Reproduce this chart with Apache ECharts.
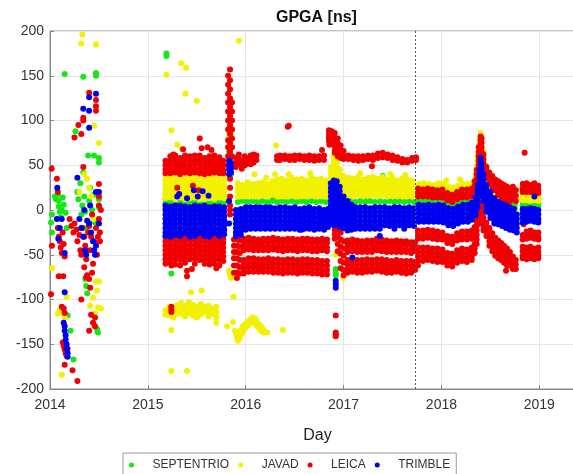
<!DOCTYPE html>
<html>
<head>
<meta charset="utf-8">
<script src="https://cdn.jsdelivr.net/npm/echarts@6/dist/echarts.min.js"></script>
<style>
  html, body { margin: 0; padding: 0; background: #fff; }
  #chart { width: 573px; height: 474px; }
</style>
</head>
<body>
<div id="chart"></div>
<script>
// receivers, in legend order
let receivers = ["SEPTENTRIO", "JAVAD", "LEICA", "TRIMBLE"];
let yearTicks = [2014, 2015, 2016, 2017, 2018, 2019];
let reprocessDate = 2017.73;

// single points: [year, ns]
let septentrioPts = [
  [2014.02,-5],[2014.01,-14],[2014.02,-25],[2014.05,15],[2014.06,12],[2014.08,17],[2014.09,10],[2014.09,4],
  [2014.10,-2],[2014.11,-8],[2014.12,0],[2014.13,14],[2014.14,6],[2014.15,152],[2014.16,-3],[2014.17,-20],
  [2014.18,-118],[2014.21,-135],[2014.24,-167],[2014.26,88],[2014.28,20],[2014.29,12],[2014.31,30],[2014.32,-5],
  [2014.33,5],[2014.34,149],[2014.34,42],[2014.35,15],[2014.36,-2],[2014.37,-20],[2014.36,-77],[2014.37,-85],
  [2014.38,-93],[2014.39,61],[2014.40,10],[2014.41,25],[2014.43,0],[2014.45,61],[2014.45,17],[2014.46,-14],
  [2014.47,153],[2014.47,150],[2014.48,-133],[2014.49,-137],[2014.50,58],[2014.50,53],[2014.50,12],[2014.50,3],
  [2015.19,175],[2015.19,172],[2015.24,-71],[2015.83,65],[2015.83,60],[2015.84,56],[2015.85,40],
  [2015.27,17],[2015.41,18],[2015.56,16],[2015.66,17],[2016.28,12],[2016.61,13],[2017.21,12],[2017.55,13],
  [2016.92,-66],[2016.92,-70],[2016.92,-73],[2017.40,38]
];
let javadPts = [
  [2014.02,-65],[2014.08,-116],[2014.10,-112],[2014.12,-184],[2014.13,-115],[2014.15,-120],[2014.17,-97],
  [2014.33,196],[2014.32,186],[2014.47,185],[2014.45,94],[2014.50,75],[2014.30,20],[2014.35,40],[2014.38,35],
  [2014.40,25],[2014.42,15],[2014.44,-10],[2014.47,-80],[2014.48,-90],[2014.41,-107],[2014.44,-98],
  [2014.49,-109],[2014.46,-115],[2014.52,-110],[2014.50,-80],
  [2015.19,151],[2015.34,164],[2015.39,159],[2015.385,130],[2015.50,122],[2015.93,189],[2015.24,89],
  [2015.30,73],[2015.35,68],[2015.44,-92],[2015.55,-90],[2015.875,-97],[2015.83,-68],[2015.84,-72],
  [2015.85,-76],[2015.24,-134],[2015.24,-180],[2015.40,-180],[2015.70,-126],[2015.81,-130],[2016.09,40],
  [2016.30,40],[2016.31,72],[2016.38,-134],[2016.997,-76],[2016.92,-50],
  [2016.21,36],[2016.44,40],[2016.66,41],[2017.17,41],[2017.48,40],[2017.63,39],[2018.05,33],[2018.19,34],
  [2015.87,-125],[2015.89,-135],[2015.91,-142],[2015.93,-139],[2015.95,-134],[2015.97,-130],[2015.99,-128],
  [2016.01,-126],[2016.03,-124],[2016.05,-122],[2016.07,-120],[2016.09,-121],[2016.11,-124],[2016.13,-127],
  [2016.15,-129],[2016.17,-132],[2016.19,-135],[2016.22,-137],
  [2015.90,-138],[2015.92,-146],[2015.94,-143],[2015.96,-138],[2015.98,-134],[2016.00,-131],[2016.02,-129],
  [2016.04,-127],[2016.06,-125],[2016.08,-125],[2016.10,-127],[2016.12,-130],[2016.14,-133],[2016.16,-135],
  [2016.18,-137]
];
let leicaPts = [
  [2014.017,46],[2014.07,35],[2014.08,20],[2014.02,-40],[2014.01,-94],[2014.09,-74],[2014.135,-74],
  [2014.08,-20],[2014.09,-30],[2014.10,-35],[2014.11,-42],[2014.12,-48],[2014.13,-25],[2014.14,-38],
  [2014.15,-52],[2014.12,-108],[2014.14,-110],[2014.15,-115],[2014.13,-148],[2014.14,-152],[2014.15,-156],
  [2014.16,-160],[2014.17,-163],[2014.18,-155],[2014.16,-150],[2014.15,-173],[2014.23,-179],[2014.28,-191],
  [2014.20,-10],[2014.22,-18],[2014.24,-25],[2014.25,81],[2014.25,-15],[2014.27,-22],[2014.28,-35],
  [2014.29,95],[2014.30,-28],[2014.31,-45],[2014.32,85],[2014.32,-50],[2014.33,-20],[2014.34,103],
  [2014.34,100],[2014.34,48],[2014.35,-64],[2014.35,-30],[2014.36,-40],[2014.37,-75],[2014.37,-55],
  [2014.38,-73],[2014.32,-100],[2014.39,-25],[2014.40,131],[2014.40,-77],[2014.40,-135],[2014.41,-87],
  [2014.41,-45],[2014.42,-117],[2014.42,-30],[2014.43,-70],[2014.44,-126],[2014.44,-60],[2014.45,-35],
  [2014.46,-120],[2014.46,-130],[2014.47,123],[2014.47,116],[2014.47,111],[2014.47,-20],[2014.48,-50],
  [2014.49,-30],[2014.50,29],[2014.50,15],[2014.50,5],[2014.50,-10],[2014.51,-25],[2014.51,-35],[2014.52,0],
  [2014.40,-18],[2014.43,-5],
  [2015.24,-62],[2015.24,-108],[2015.24,-111],[2015.24,-114],[2015.40,-68],[2015.40,-74],[2015.53,80],
  [2015.55,69],[2015.65,67],[2015.26,62],[2016.43,93],[2016.44,94],[2016.78,67],[2016.855,73],[2016.91,64],
  [2015.30,25],[2015.46,27],[2015.52,22],[2015.36,68],[2015.61,70],[2015.45,-66],[2015.70,-65],
  [2017.29,49],[2016.92,-118],[2016.92,-137],[2016.92,-139],[2016.92,-141],[2018.85,64],[2018.66,-68],
  [2018.84,-16]
];
let trimblePts = [
  [2014.075,25],[2014.07,-10],[2014.10,-20],[2014.085,-32],[2014.12,-10],[2014.15,-48],[2014.15,-92],
  [2014.14,-126],[2014.15,-130],[2014.15,-135],[2014.16,-140],[2014.16,-145],[2014.17,-150],[2014.17,-155],
  [2014.18,-160],[2014.18,-164],[2014.28,36],[2014.34,113],[2014.40,111],[2014.40,92],[2014.40,126],
  [2014.47,130],[2014.47,20],[2014.50,20],[2014.30,-10],[2014.32,-20],[2014.34,-30],[2014.35,0],
  [2014.36,-45],[2014.37,-50],[2014.40,-15],[2014.42,-25],[2014.44,-35],[2014.45,-45],[2014.46,-50],
  [2014.47,-40],[2014.50,-15],[2014.41,5],[2014.38,-12],
  [2015.30,15],[2015.56,21],[2015.32,18],[2015.47,22],[2015.51,15],[2015.40,13],[2015.62,16],
  [2016.57,-22],[2017.37,-29],[2017.09,-53],[2016.92,-79],[2016.92,-83],
  [2016.92,-87],[2018.95,15]
];

// dense daily bands: [year, ns, ns, ...]
let septentrioCols = [
  [2015.18,12,7,2],[2015.23,13,8,3],[2015.28,11,6],[2015.33,14,9,4],[2015.38,12,7],[2015.43,13,8,3],
  [2015.48,10,5],[2015.53,14,9,4],[2015.58,12,7],[2015.63,11,6,2],[2015.68,13,8],[2015.73,12,7,3],[2015.78,14,9],
  [2015.92,9],[2015.97,10],[2016.02,9],[2016.07,10],[2016.12,9],[2016.17,10],[2016.22,9],[2016.27,10],
  [2016.32,9],[2016.37,10],[2016.42,9],[2016.47,10],[2016.52,9],[2016.57,10],[2016.62,9],[2016.67,10],
  [2016.72,9],[2016.77,10],[2016.82,9],
  [2017.02,9],[2017.07,10],[2017.12,9],[2017.17,10],[2017.22,9],[2017.27,10],[2017.32,9],[2017.37,10],
  [2017.42,9],[2017.47,10],[2017.52,9],[2017.57,10],[2017.62,9],[2017.67,10],[2017.72,9],
  [2017.77,14,10],[2017.82,13,9],[2017.87,14,10],[2017.92,13,9],[2017.97,14,10],[2018.02,13,9],
  [2018.07,10,6],[2018.12,9,5],[2018.17,12,8],[2018.22,14,10],[2018.27,13,9],[2018.32,15,11],
  [2018.47,30,25,20],[2018.51,24,19,14],[2018.55,20,15,10],[2018.59,18,13,8],[2018.63,16,11,6],
  [2018.67,15,10,5],[2018.71,14,9,4],[2018.75,12,7,2],
  [2018.83,12,8,5],[2018.87,13,9,5],[2018.91,12,8,4],[2018.95,11,7,4],[2018.99,12,8,5]
];
let javadCols = [
  [2015.18,38,33,28,23,18,13],[2015.23,39,34,29,24,19,14],[2015.28,37,32,27,22,17,12],[2015.33,39,34,29,24,19,14],
  [2015.38,36,31,26,21,16,12],[2015.43,38,33,28,23,18,13],[2015.48,39,34,29,24,19,14],[2015.53,37,32,27,22,17,12],
  [2015.58,35,30,25,20,15,12],[2015.63,38,33,28,23,18,13],[2015.68,36,31,26,21,16,12],[2015.73,34,29,24,19,14],
  [2015.78,37,32,27,22,17,13],[2015.83,92,86,80,75],[2015.85,88,82],
  [2015.92,30,25,20,15],[2015.97,28,23,18,15],[2016.02,31,26,21,16],[2016.07,29,24,19,15],
  [2016.12,30,25,20,15],[2016.17,31,26,21,16],[2016.22,29,24,19,15],[2016.27,32,27,22,17],
  [2016.32,34,29,24,19,15],[2016.37,35,30,25,20,15],[2016.42,33,28,23,18,15],[2016.47,36,31,26,21,16],
  [2016.52,34,29,24,19,15],[2016.57,35,30,25,20,15],[2016.62,33,28,23,18,15],[2016.67,36,31,26,21,16],
  [2016.72,34,29,24,19,15],[2016.77,35,30,25,20,15],[2016.82,33,28,23,18,15],
  [2016.87,48,43,38,33,28,23,18],[2016.90,60,55,50,45,40,35,30],[2016.93,58,53,48,43,38,33],
  [2016.96,45,40,35,30,25,20],
  [2017.00,38,33,28,23,18],[2017.05,36,31,26,21,16],[2017.10,35,30,25,20,15],[2017.15,37,32,27,22,17],
  [2017.20,34,29,24,19,15],[2017.25,36,31,26,21,16],[2017.30,37,32,27,22,17],[2017.35,35,30,25,20,15],
  [2017.40,37,32,27,22,17],[2017.45,34,29,24,19,15],[2017.50,36,31,26,21,16],[2017.55,33,28,23,18,15],
  [2017.60,35,30,25,20,15],[2017.65,34,29,24,19,15],[2017.70,33,28,23,18,15],
  [2017.77,29,25],[2017.82,30,26],[2017.87,29,25],[2017.92,28,24],[2017.97,30,26],[2018.02,29,25],
  [2018.07,26,22],[2018.12,25,21],[2018.17,27,23],[2018.22,29,25],[2018.27,29,25],[2018.32,31,27],
  [2018.35,40,35,30],[2018.37,60,55,50,45,40],[2018.39,78,73,68,63,58],[2018.40,86,81,76],
  [2018.41,82,77,72,67],[2018.43,65,60,55,50],[2018.45,50,45,40,35],
  [2018.48,42,37,32,27],[2018.52,36,31,26,21],[2018.56,33,28,23,18],[2018.60,30,25,20,15],
  [2018.64,28,23,18],[2018.68,26,21,16],[2018.72,25,20,15],[2018.76,23,18,13],
  [2018.83,18,14,11],[2018.87,19,15,11],[2018.91,18,14,10],[2018.95,18,14,11],[2018.99,17,13,10],
  [2015.18,-112,-117],[2015.22,-108,-113,-118],[2015.26,-110,-115,-120],[2015.30,-106,-111,-116],
  [2015.34,-104,-110,-116],[2015.38,-107,-113,-119],[2015.42,-103,-109,-115],[2015.46,-106,-112,-118],
  [2015.50,-108,-114,-120],[2015.54,-105,-111,-117],[2015.58,-108,-114],[2015.62,-107,-113,-119],
  [2015.66,-110,-116],[2015.70,-108,-114,-120]
];
let leicaCols = [
  [2015.18,55,50,45,41],[2015.23,60,55,50,45,41],[2015.28,61,56,51,46,42],
  [2015.33,58,53,48,43,40],[2015.38,61,56,51,46,42],[2015.43,60,55,50,45,41],
  [2015.48,61,56,51,46,42],[2015.53,61,56,51,46,41],[2015.58,58,53,48,43,40],
  [2015.63,60,55,50,45,41],[2015.68,61,56,51,46,42],[2015.73,59,54,49,44,41],
  [2015.77,55,50,45,41],
  [2015.82,150,140,130,120,110,100,90,78,70,60,50],
  [2015.84,157,145,135,125,115,105,95,85,75,65,55,45,35,25,15,5,0,-5],
  [2015.86,120,110,100,90,80,70,60],
  [2015.90,58,53,48],[2015.93,62,57,52],[2015.96,55,50,46],[2015.99,60,55,50],[2016.02,57,52],
  [2016.05,61,56,51],[2016.08,62,57,53],[2016.11,61,56],
  [2016.32,60,56],[2016.35,61,56],[2016.40,61,57],[2016.45,60,56],[2016.50,61,56],[2016.55,61,57],
  [2016.60,60,56],[2016.65,61,56],[2016.70,60,55],[2016.75,60,56],[2016.80,61,56],
  [2016.85,89,85,81,77],[2016.88,88,84,80,76],[2016.91,86,81,76,71,66],[2016.94,80,75,70,65,60],
  [2016.97,72,67,62,58],[2017.00,66,61,57],
  [2017.05,61,57],[2017.10,60,56],[2017.15,60,55],[2017.20,60,56],[2017.25,61,57],[2017.30,61,56],
  [2017.35,63,58],[2017.40,64,59],[2017.45,62,58],[2017.50,61,56],[2017.55,59,55],[2017.60,57,53],
  [2017.65,56,53],[2017.70,58,55],[2017.74,59,56],
  [2015.18,-30,-35,-40,-45,-50,-55,-60],[2015.23,-29,-34,-39,-44,-49,-54,-59],[2015.28,-30,-35,-40,-45,-50,-55,-61],
  [2015.33,-31,-36,-41,-46,-51,-56,-62],[2015.38,-29,-34,-39,-44,-49,-54,-59],[2015.43,-30,-35,-40,-45,-50,-55],
  [2015.48,-29,-34,-39,-44,-49,-54,-60],[2015.53,-31,-36,-41,-46,-51,-56],[2015.58,-30,-35,-40,-45,-50,-55,-60],
  [2015.63,-31,-36,-41,-46,-51,-56,-61],[2015.68,-30,-35,-40,-45,-50,-55,-60],[2015.73,-31,-36,-41,-46,-51,-56,-62],
  [2015.77,-32,-37,-42,-47,-52,-57],
  [2015.88,-33,-40,-47,-54,-62,-70],[2015.91,-33,-40,-47,-54,-62,-70,-76],[2015.94,-34,-41,-48,-56,-64,-71],
  [2015.98,-32,-36,-41,-45],[2016.03,-31,-35,-40,-44],[2016.08,-32,-36,-41,-45],[2016.13,-33,-37,-42,-45],
  [2016.18,-32,-36,-41,-45],[2016.23,-32,-36,-41,-45],[2016.28,-31,-35,-40,-44],[2016.33,-32,-36,-41,-45],
  [2016.38,-33,-37,-42,-46],[2016.43,-32,-36,-41,-45],[2016.48,-32,-36,-41,-45],[2016.53,-33,-37,-42,-46],
  [2016.58,-32,-36,-41,-45],[2016.63,-32,-36,-41,-45],[2016.68,-33,-37,-42,-46],[2016.73,-33,-37,-42,-46],
  [2016.78,-32,-36,-41,-45],[2016.83,-33,-37,-42,-46],
  [2015.98,-56,-61,-66,-71],[2016.03,-54,-59,-64,-69],[2016.08,-54,-59,-64,-69],[2016.13,-55,-60,-65,-69],
  [2016.18,-55,-60,-65,-69],[2016.23,-54,-59,-64,-69],[2016.28,-55,-60,-65,-70],[2016.33,-55,-60,-65,-70],
  [2016.38,-56,-61,-66,-71],[2016.43,-55,-60,-65,-70],[2016.48,-55,-60,-65,-70],[2016.53,-56,-61,-66,-71],
  [2016.58,-55,-60,-65,-70],[2016.63,-55,-60,-65,-70],[2016.68,-56,-61,-66,-71],[2016.73,-56,-61,-66,-71],
  [2016.78,-57,-62,-67,-72],[2016.83,-57,-62,-67,-72],
  [2016.91,-7,-12,-17,-22,-27,-32],[2016.94,-15,-22,-30,-38,-46],[2016.97,-25,-33,-41,-49,-57,-65],
  [2017.00,-35,-43,-51,-59,-67,-73],
  [2017.04,-34,-38,-43,-47],[2017.09,-33,-37,-42,-46],[2017.14,-34,-38,-43,-47],[2017.19,-35,-39,-44,-47],
  [2017.24,-34,-38,-43,-47],[2017.29,-34,-38,-43,-47],[2017.34,-32,-36,-41,-45],[2017.39,-33,-37,-42,-46],
  [2017.44,-34,-38,-43,-47],[2017.49,-35,-39,-44,-47],[2017.54,-34,-38,-43,-47],[2017.59,-35,-39,-44,-47],
  [2017.64,-35,-39,-44,-47],[2017.69,-36,-40,-45,-48],[2017.73,-36,-41,-46],
  [2017.04,-56,-61,-66,-70],[2017.09,-55,-60,-65,-69],[2017.14,-56,-61,-66,-70],[2017.19,-56,-61,-66,-70],
  [2017.24,-55,-60,-65,-69],[2017.29,-56,-61,-66,-69],[2017.34,-55,-60,-65,-68],[2017.39,-55,-60,-65,-69],
  [2017.44,-56,-61,-66,-70],[2017.49,-57,-62,-67,-70],[2017.54,-56,-61,-66,-69],[2017.59,-57,-62,-67,-70],
  [2017.64,-57,-62,-67,-71],[2017.69,-57,-62,-67,-70],[2017.73,-58,-63,-67],
  [2017.76,24,19,15],[2017.81,23,18,15],[2017.86,24,19,15],[2017.91,23,18,14],[2017.96,22,18,14],
  [2018.01,23,18,14],[2018.06,19,15,11],[2018.11,17,13,9],[2018.16,20,16,12],[2018.21,23,18,14],
  [2018.26,23,18,14],[2018.31,24,19,15],[2018.34,32,27,22],
  [2017.76,-23,-28,-32],[2017.81,-23,-28,-32],[2017.86,-22,-27,-31],[2017.91,-23,-28,-32],
  [2017.96,-24,-29,-33],[2018.01,-25,-30,-33],[2018.06,-29,-33,-37],[2018.11,-30,-34,-38],
  [2018.16,-26,-30,-34],[2018.21,-24,-29,-33],[2018.26,-24,-29,-33],[2018.31,-23,-28,-32],
  [2018.34,-19,-24,-29],
  [2017.76,-42,-47,-52,-57,-62],[2017.81,-42,-47,-52,-57],[2017.86,-42,-47,-52,-56],[2017.91,-43,-48,-53,-57],
  [2017.96,-43,-48,-53,-58],[2018.01,-44,-49,-54,-58],[2018.06,-48,-53,-58,-62],[2018.11,-49,-54,-59,-63],
  [2018.16,-45,-50,-55,-59],[2018.21,-43,-48,-53,-57],[2018.26,-44,-49,-54,-58],[2018.31,-42,-47,-52,-56],
  [2018.34,-38,-43,-48],
  [2018.36,45,40,35,30,-8,-13,-18,-23,-28,-33,-38],[2018.38,70,65,60,55,50,0,-5,-10,-15],
  [2018.40,82,78,74,70,8,3,-2],[2018.41,80,75,70,65,4,-1,-6],[2018.43,62,57,52,47,-8,-13,-18,-23],
  [2018.46,48,44,40,36],[2018.49,42,38,34,30],[2018.52,38,34,30,26],[2018.55,34,30,26,22],
  [2018.58,32,27,22,17],[2018.61,30,25,20,15,10],[2018.64,28,22,16,10],[2018.67,26,20,14,8],
  [2018.70,22,16,10],[2018.73,26,20,14],[2018.76,22,16,10],
  [2018.46,-14,-19,-24,-29],[2018.49,-20,-25,-30,-35,-40],[2018.52,-26,-31,-36,-41,-46],
  [2018.55,-31,-36,-41,-46,-51],[2018.58,-34,-39,-44,-49,-54],[2018.61,-37,-42,-47,-52,-56],
  [2018.64,-40,-45,-50,-55,-59],[2018.67,-43,-48,-53,-58,-62],[2018.70,-47,-52,-57,-62],
  [2018.73,-52,-57,-62,-66],[2018.76,-56,-61,-66],
  [2018.83,29,24,20],[2018.87,30,25,20],[2018.91,28,24,20],[2018.95,30,25,20],[2018.99,27,23,19],
  [2018.83,-28,-33],[2018.87,-24,-29,-32],[2018.91,-23,-28,-31],[2018.95,-25,-29,-32],[2018.99,-25,-30,-33],
  [2018.83,-41,-46,-51,-54],[2018.87,-42,-47,-52,-55],[2018.91,-41,-46,-51,-54],[2018.95,-43,-48,-52,-55],
  [2018.99,-42,-47,-51,-54]
];
let trimbleCols = [
  [2015.18,5,0,-5,-10,-15,-20,-25,-29],[2015.23,4,-1,-6,-11,-16,-21,-26,-30],[2015.28,5,0,-5,-10,-15,-20,-25,-28],
  [2015.33,5,0,-5,-10,-15,-20,-25,-29],[2015.38,4,-1,-6,-11,-16,-21,-26],[2015.43,3,-2,-7,-12,-17,-22,-27,-30],
  [2015.48,5,0,-5,-10,-15,-20,-25,-29],[2015.53,4,-1,-6,-11,-16,-21,-26],[2015.58,5,0,-5,-10,-15,-20,-25,-29],
  [2015.63,3,-2,-7,-12,-17,-22,-27,-30],[2015.68,4,-1,-6,-11,-16,-21,-26],[2015.73,4,-1,-6,-11,-16,-21,-26,-29],
  [2015.78,3,-2,-7,-12,-17,-22,-27],
  [2015.83,55,50,45,40,10,-15],[2015.85,52,47,42],
  [2015.90,0,-5,-10,-15,-20,-25,-29],[2015.95,1,-4,-9,-14,-19,-24,-28],[2016.00,3,-2,-7,-12,-17,-22],
  [2016.05,3,-2,-7,-12,-17,-21],[2016.10,3,-2,-7,-12,-17,-21],[2016.15,3,-2,-7,-12,-17,-21],
  [2016.20,3,-2,-7,-12,-17,-21],[2016.25,3,-2,-7,-12,-17,-21],[2016.30,2,-3,-8,-13,-18,-21],
  [2016.35,3,-2,-7,-12,-17,-21],[2016.40,3,-2,-7,-12,-17,-21],[2016.45,2,-3,-8,-13,-18,-21],
  [2016.50,3,-2,-7,-12,-17,-21],[2016.55,1,-4,-9,-14,-19,-22],[2016.60,2,-3,-8,-13,-18,-21],
  [2016.65,3,-2,-7,-12,-17,-21],[2016.70,1,-4,-9,-14,-19,-22],[2016.75,2,-3,-8,-13,-18,-21],
  [2016.80,0,-5,-10,-15,-20,-22],[2016.84,1,-4,-9,-14,-19],
  [2016.87,30,25,20,15,10,5,0,-5,-10,-15],[2016.90,33,28,23,18,13,8,3,-2,-7,-12,-17],
  [2016.93,32,27,22,17,12,7,2,-3,-8,-13],[2016.96,26,21,16,11,6,1,-4,-9,-14,-19],
  [2017.00,15,10,5,0,-5,-10,-15,-20],[2017.04,10,5,0,-5,-10,-15,-20,-23],[2017.08,6,1,-4,-9,-14,-19,-22],
  [2017.12,3,-2,-7,-12,-17,-21],[2017.17,3,-2,-7,-12,-17,-21],[2017.22,3,-2,-7,-12,-17,-21],
  [2017.27,2,-3,-8,-13,-18,-21],[2017.32,3,-2,-7,-12,-17,-21],[2017.37,3,-2,-7,-12,-17,-21],
  [2017.42,3,-2,-7,-12,-17],[2017.47,2,-3,-8,-13,-18],[2017.52,3,-2,-7,-12,-17,-21],
  [2017.57,3,-2,-7,-12,-17],[2017.62,2,-3,-8,-13,-18,-21],[2017.67,3,-2,-7,-12,-17],[2017.72,2,-3,-8,-13,-18],
  [2017.77,6,1,-4,-9,-13],[2017.82,5,0,-5,-10,-13],[2017.87,6,1,-4,-9,-13],[2017.92,5,0,-5,-10,-13],
  [2017.97,6,1,-4,-9,-13],[2018.02,5,0,-5,-10,-14],[2018.07,2,-3,-8,-13,-17],[2018.12,1,-4,-9,-14,-18],
  [2018.17,4,-1,-6,-11,-15],[2018.22,6,1,-4,-9,-13],[2018.27,6,1,-4,-9,-13],[2018.31,8,3,-2,-7,-11],
  [2018.35,14,9,4,-1,-6],[2018.37,28,23,18,13,8,3],[2018.39,45,40,35,30,25,20,15],[2018.40,58,53,48,43,38,33,28,23,18],
  [2018.41,52,47,42,37,32,27,22,17],[2018.43,40,35,30,25,20,15,10],
  [2018.46,28,23,18,13,8,3,-2],[2018.50,20,15,10,5,0,-5,-9],[2018.54,13,8,3,-2,-7,-12,-15],[2018.58,9,4,-1,-6,-11,-16],
  [2018.62,7,2,-3,-8,-13,-18],[2018.66,5,0,-5,-10,-15,-20],[2018.70,3,-2,-7,-12,-17,-22],
  [2018.74,1,-4,-9,-14,-19,-23],[2018.77,-5,-10,-15,-20,-25],
  [2018.83,1,-4,-9,-14],[2018.87,1,-4,-9,-13],[2018.91,2,-3,-8,-12],[2018.95,1,-4,-9,-13],[2018.99,0,-5,-10,-14]
];

let colors = ["#17e617", "#f2f200", "#f00000", "#0000f0"];

function flat(pts, cols) {
  let out = pts.slice();
  cols.forEach((c) => {
    for (let i = 1; i < c.length; i++) out.push([c[0], c[i]]);
  });
  return out;
}

let seriesData = [
  flat(septentrioPts, septentrioCols),
  flat(javadPts, javadCols),
  flat(leicaPts, leicaCols),
  flat(trimblePts, trimbleCols),
];

let chart = echarts.init(document.getElementById("chart"));

let series = receivers.map((name, i) => ({
  name: name,
  type: "scatter",
  data: seriesData[i],
  symbol: "circle",
  symbolSize: 6,
  silent: true,
  itemStyle: { color: colors[i], opacity: 1 },
}));

series[3].markLine = {
  silent: true,
  symbol: ["none", "none"],
  label: { show: false },
  lineStyle: { color: "#555", width: 1, type: [2, 2] },
  data: [{ xAxis: reprocessDate }],
};

chart.setOption({
  animation: false,
  color: colors,
  title: {
    text: "GPGA [ns]",
    left: 276,
    top: 10,
    padding: 0,
    textStyle: { fontSize: 16, fontWeight: "bold", color: "#111", fontFamily: "Liberation Sans" },
  },
  legend: {
    data: receivers,
    left: 123,
    top: 453,
    padding: [6, 6],
    itemGap: 9,
    itemWidth: 32,
    itemHeight: 5,
    icon: "circle",
    borderColor: "#999",
    borderWidth: 1,
    textStyle: { fontSize: 12, color: "#333", fontFamily: "Liberation Sans" },
  },
  grid: {
    left: 50,
    top: 31,
    width: 535,
    height: 358,
    outerBoundsMode: "none",
    show: true,
    borderColor: "#888",
    borderWidth: 1,
  },
  xAxis: {
    type: "value",
    min: yearTicks[0],
    max: 2019.467,
    interval: 1,
    name: "Day",
    nameLocation: "middle",
    nameGap: 39,
    nameTextStyle: { fontSize: 16, color: "#222", fontFamily: "Liberation Sans" },
    axisLine: { onZero: false, lineStyle: { color: "#888" } },
    axisTick: { inside: true, length: 4, lineStyle: { color: "#888" } },
    axisLabel: {
      fontSize: 14,
      color: "#333",
      margin: 9,
      fontFamily: "Liberation Sans",
      showMaxLabel: false,
      formatter: (v) => (yearTicks.includes(v) ? String(v) : ""),
    },
    splitLine: { show: true, lineStyle: { color: "#e6e6e6" } },
  },
  yAxis: {
    type: "value",
    min: -200,
    max: 200,
    interval: 50,
    axisLine: { show: true, onZero: false, lineStyle: { color: "#888" } },
    axisTick: { show: true, inside: true, length: 4, lineStyle: { color: "#888" } },
    axisLabel: { fontSize: 14, color: "#333", margin: 6, fontFamily: "Liberation Sans" },
    splitLine: { show: true, lineStyle: { color: "#e6e6e6" } },
  },
  series: series,
});
</script>
</body>
</html>
